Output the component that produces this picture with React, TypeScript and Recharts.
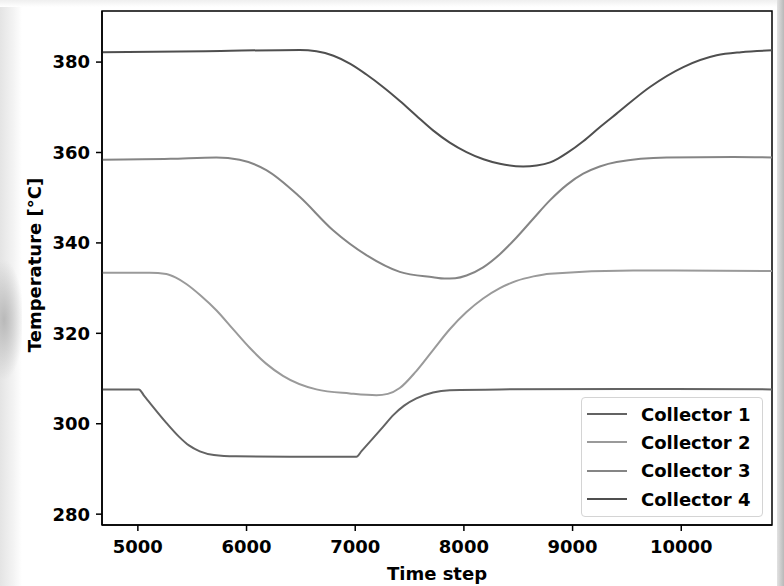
import { LineChart, Line, XAxis, YAxis, Legend, ReferenceArea } from "recharts";

const FONT = "'DejaVu Sans', sans-serif";

const timeDomain: [number, number] = [4670, 10835];
const tempDomain: [number, number] = [277.6, 391.3];
const timeTicks = [5000, 6000, 7000, 8000, 9000, 10000];
const tempTicks = [280, 300, 320, 340, 360, 380];

const collectorNames = ["Collector 1", "Collector 2", "Collector 3", "Collector 4"];
const collectorColors = ["#636363", "#9a9a9a", "#858585", "#4f4f4f"];

const collector1Time = [4670, 5009, 5060, 5262, 5380, 5470, 5570, 5700, 5900, 6400, 7011, 7060, 7256, 7350, 7450, 7563, 7716, 7870, 8331, 9500, 10835];
const collector1Temp = [307.6, 307.6, 306.1, 300.2, 297.1, 295.2, 293.9, 293.1, 292.8, 292.7, 292.7, 294.0, 299.3, 301.9, 304.0, 305.6, 306.9, 307.4, 307.6, 307.7, 307.6];

const collector2Time = [4670, 5109, 5262, 5350, 5446, 5580, 5722, 5880, 6029, 6180, 6335, 6643, 6949, 7195, 7300, 7410, 7560, 7716, 7870, 8024, 8177, 8331, 8484, 8640, 8791, 9558, 10835];
const collector2Temp = [333.4, 333.4, 333.1, 332.3, 330.9, 328.3, 325.1, 320.8, 316.8, 313.3, 310.6, 307.6, 306.7, 306.3, 306.6, 307.9, 311.6, 316.3, 320.9, 324.7, 327.7, 330.0, 331.6, 332.6, 333.2, 333.9, 333.8];

const collector3Time = [4670, 5300, 5722, 5936, 6182, 6489, 6796, 7103, 7410, 7716, 7820, 7920, 8024, 8177, 8331, 8484, 8640, 8791, 8950, 9098, 9250, 9405, 9865, 10479, 10835];
const collector3Temp = [358.4, 358.6, 358.9, 358.4, 356.1, 350.2, 342.8, 337.3, 333.6, 332.4, 332.1, 332.2, 332.8, 334.6, 337.5, 341.2, 345.4, 349.4, 352.9, 355.3, 356.9, 357.9, 358.9, 359.0, 358.9];

const collector4Time = [4670, 5623, 6489, 6643, 6800, 6955, 7100, 7256, 7411, 7560, 7716, 7870, 8024, 8180, 8331, 8545, 8670, 8794, 8870, 8950, 9098, 9250, 9405, 9712, 10019, 10326, 10550, 10835];
const collector4Temp = [382.2, 382.4, 382.7, 382.4, 381.4, 379.6, 377.3, 374.5, 371.4, 368.2, 364.9, 362.2, 360.1, 358.5, 357.5, 356.9, 357.1, 357.8, 358.7, 359.9, 362.5, 365.6, 368.6, 374.5, 378.9, 381.5, 382.2, 382.6];

const toPoints = (times: number[], temps: number[]) =>
  times.map((t, i) => ({ t, temp: temps[i] }));

const series = [
  toPoints(collector1Time, collector1Temp),
  toPoints(collector2Time, collector2Temp),
  toPoints(collector3Time, collector3Temp),
  toPoints(collector4Time, collector4Temp),
].map((data, i) => ({ data, name: collectorNames[i], color: collectorColors[i] }));

const tickStyle = { fontFamily: FONT, fontWeight: "bold" as const, fontSize: 18, fill: "#000" };

const LegendBox = () => (
  <div
    style={{
      width: 182,
      height: 120,
      boxSizing: "border-box",
      border: "1px solid #d4d4d4",
      borderRadius: 4,
      background: "rgba(255,255,255,0.85)",
      padding: "2px 0 0 5px",
      fontFamily: FONT,
      fontWeight: "bold",
      fontSize: 18,
      color: "#000",
    }}
  >
    {series.map((s) => (
      <div key={s.name} style={{ display: "flex", alignItems: "center", height: 28.33 }}>
        <span style={{ width: 40, height: 0, borderTop: `2px solid ${s.color}`, marginRight: 14 }} />
        <span>{s.name}</span>
      </div>
    ))}
  </div>
);

const YLabel = ({ viewBox }: any) => {
  const cx = viewBox.x + 19;
  const cy = viewBox.y + viewBox.height / 2 - 3;
  return (
    <text
      transform={`translate(${cx}, ${cy}) rotate(-90)`}
      textAnchor="middle"
      style={tickStyle}
    >
      Temperature [°C]
    </text>
  );
};

export default function App() {
  return (
    <div style={{ position: "absolute", left: 0, top: 0, width: 784, height: 586, background: "#fff", overflow: "hidden" }}>
      {/* soft page shadow along the edges */}
      <div style={{ position: "absolute", left: 0, top: 0, width: 22, height: 586, background: "linear-gradient(to right, #e4e4e4, #f3f3f3 60%, #ffffff)" }} />
      <div style={{ position: "absolute", left: 0, top: 250, width: 22, height: 140, background: "radial-gradient(ellipse 20px 60px at 4px 70px, #b9b9b9, rgba(230,230,230,0))" }} />
      <div style={{ position: "absolute", left: 0, top: 0, width: 784, height: 7, background: "linear-gradient(to bottom, #efefef, #ffffff)" }} />
      <div style={{ position: "absolute", left: 777, top: 0, width: 7, height: 586, background: "linear-gradient(to right, #e2e2e2, #b9b9b9)" }} />
      <div style={{ position: "absolute", left: 0, top: 0 }}>
        <LineChart width={784} height={586} margin={{ top: 11, right: 12, bottom: 0, left: 22 }}>
          <XAxis
            type="number"
            dataKey="t"
            domain={timeDomain}
            ticks={timeTicks}
            allowDataOverflow
            height={61}
            tickSize={6}
            tickMargin={9}
            tick={tickStyle}
            stroke="#000"
            strokeWidth={1.5}
            label={{ value: "Time step", position: "insideBottom", offset: 6, style: tickStyle }}
          />
          <YAxis
            type="number"
            domain={tempDomain}
            ticks={tempTicks}
            allowDataOverflow
            width={80}
            tickSize={6}
            tickMargin={6}
            tick={tickStyle}
            stroke="#000"
            strokeWidth={1.5}
            label={<YLabel />}
          />
          {/* axes box */}
          <ReferenceArea
            x1={timeDomain[0]}
            x2={timeDomain[1]}
            y1={tempDomain[0]}
            y2={tempDomain[1]}
            fill="none"
            stroke="#000"
            strokeWidth={1.5}
            ifOverflow="visible"
          />
          {series.map((s) => (
            <Line
              key={s.name}
              data={s.data}
              dataKey="temp"
              name={s.name}
              type="monotone"
              stroke={s.color}
              strokeWidth={2}
              dot={false}
              isAnimationActive={false}
            />
          ))}
          <Legend
            layout="vertical"
            align="center"
            verticalAlign="middle"
            wrapperStyle={{ left: 581, top: 397, width: 182 }}
            content={<LegendBox />}
          />
        </LineChart>
      </div>
    </div>
  );
}
